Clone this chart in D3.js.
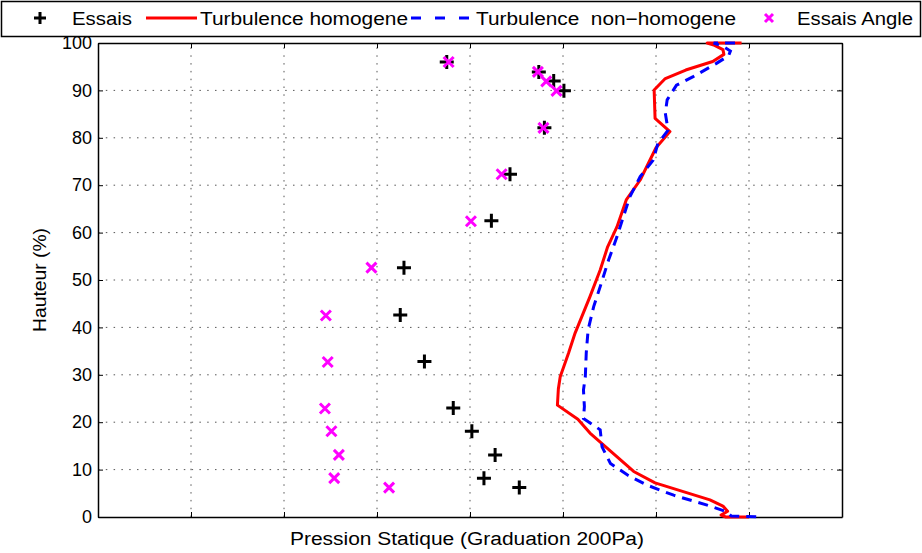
<!DOCTYPE html>
<html>
<head>
<meta charset="utf-8">
<script src="https://cdn.jsdelivr.net/npm/d3@7"></script>
<style>
  html, body { margin: 0; padding: 0; background: #fff; }
  svg { display: block; font-family: "Liberation Sans", Arial, Helvetica, sans-serif; }
</style>
</head>
<body>
<svg id="chart" width="922" height="553"></svg>
<script>
// Static pressure profile vs height: measurement points and two turbulence models.
// X is in graduations (1 graduation = 200 Pa), Y is height in %.

const yTicks = [0, 10, 20, 30, 40, 50, 60, 70, 80, 90, 100];
const xTicks = [0, 1, 2, 3, 4, 5, 6, 7, 8];

// Essais (black +)
const essaisX = [3.75, 4.74, 4.90, 5.01, 4.80, 4.43, 4.23, 3.29, 3.25, 3.51, 3.82, 4.02, 4.27, 4.15, 4.53];
const essaisY = [96.0, 93.9, 92.0, 89.9, 82.1, 72.3, 62.5, 52.6, 42.6, 32.8, 23.0, 18.1, 13.1, 8.2, 6.2];

// Essais Angle (magenta x)
const angleX = [3.77, 4.73, 4.82, 4.93, 4.79, 4.34, 4.01, 2.94, 2.45, 2.47, 2.44, 2.51, 2.59, 2.54, 3.13];
const angleY = [96.0, 93.9, 91.9, 89.9, 82.1, 72.3, 62.4, 52.6, 42.5, 32.7, 22.9, 18.1, 13.1, 8.2, 6.2];

// Turbulence homogene (red solid)
const homX = [6.92, 6.55, 6.63, 6.72, 6.73, 6.61, 6.32, 6.10, 5.98, 5.99, 6.15, 6.00, 5.83, 5.68, 5.58, 5.48,
              5.40, 5.29, 5.13, 5.06, 4.97, 4.95, 4.94, 5.16, 5.29, 5.76, 5.99, 6.58, 6.72, 6.77, 6.70, 6.75, 7.00];
const homY = [100.0, 100.0, 99.5, 98.6, 97.6, 96.1, 94.3, 92.5, 90.1, 84.1, 81.3, 77.9, 71.1, 66.9, 61.2, 57.0,
              52.1, 46.5, 38.8, 34.6, 29.6, 27.0, 23.6, 20.6, 17.7, 9.6, 7.2, 3.6, 2.3, 1.2, 0.4, 0.0, 0.0];

// Turbulence non-homogene (blue dashed)
const nonHomX = [6.85, 6.62, 6.72, 6.80, 6.78, 6.65, 6.40, 6.22, 6.12, 6.10, 6.13, 6.02, 5.97, 5.83, 5.72,
                 5.65, 5.58, 5.49, 5.40, 5.33, 5.27, 5.25, 5.24, 5.22, 5.23, 5.22, 5.40, 5.42, 5.51, 5.69, 5.90,
                 6.19, 6.55, 6.76, 6.81, 7.14];
const nonHomY = [100.0, 100.0, 99.3, 98.3, 97.3, 95.7, 92.9, 91.1, 88.0, 85.2, 81.6, 78.8, 75.3, 71.8, 67.6,
                 63.4, 59.1, 54.2, 48.6, 44.4, 39.5, 34.6, 29.6, 26.8, 23.3, 20.8, 18.4, 14.8, 11.3, 8.9, 6.75,
                 4.6, 2.5, 1.1, 0.2, 0.0];

const legendLabels = ["Essais", "Turbulence homogene", "Turbulence  non\u2212homogene", "Essais Angle"];
const xLabel = "Pression Statique (Graduation 200Pa)";
const yLabel = "Hauteur (%)";

const svg = d3.select("#chart");
const plot = { left: 98, right: 842, top: 43, bottom: 517 };

const x = d3.scaleLinear().domain([0, 8]).range([plot.left, plot.right]);
const y = d3.scaleLinear().domain([0, 100]).range([plot.bottom, plot.top]);

// Dotted grid
const grid = svg.append("g").attr("stroke", "#555").attr("stroke-width", 1).attr("stroke-dasharray", "1.5,6.3");
grid.selectAll("line.gx").data(xTicks.slice(1, -1)).join("line")
  .attr("x1", d => x(d)).attr("x2", d => x(d))
  .attr("y1", plot.bottom).attr("y2", plot.top);
grid.selectAll("line.gy").data(yTicks.slice(1, -1)).join("line")
  .attr("x1", plot.left).attr("x2", plot.right)
  .attr("y1", d => y(d)).attr("y2", d => y(d));

// Axes with inward ticks on all four sides
function styleAxis(g) {
  g.selectAll("path.domain").attr("stroke", "#000").attr("stroke-width", 1.5);
  g.selectAll(".tick line").attr("stroke", "#000").attr("stroke-width", 1);
}
svg.append("g").attr("transform", `translate(0,${plot.bottom})`)
  .call(d3.axisBottom(x).tickValues(xTicks).tickSize(-5).tickSizeOuter(0).tickFormat(""))
  .call(styleAxis);
svg.append("g").attr("transform", `translate(0,${plot.top})`)
  .call(d3.axisTop(x).tickValues(xTicks).tickSize(-5).tickSizeOuter(0).tickFormat(""))
  .call(styleAxis);
svg.append("g").attr("transform", `translate(${plot.right},0)`)
  .call(d3.axisRight(y).tickValues(yTicks).tickSize(-5).tickSizeOuter(0).tickFormat(""))
  .call(styleAxis);
const yAxis = svg.append("g").attr("transform", `translate(${plot.left},0)`)
  .call(d3.axisLeft(y).tickValues(yTicks).tickSize(-5).tickSizeOuter(0).tickPadding(6))
  .call(styleAxis);
yAxis.selectAll(".tick text")
  .attr("font-size", 18).attr("fill", "#000")
  .attr("font-family", "'Liberation Sans', Arial, sans-serif");

// Axis labels
svg.append("text")
  .attr("x", (plot.left + plot.right) / 2 - 3).attr("y", 545)
  .attr("text-anchor", "middle").attr("font-size", 18)
  .attr("textLength", 354).attr("lengthAdjust", "spacingAndGlyphs")
  .text(xLabel);
svg.append("text")
  .attr("transform", `translate(46,${(plot.top + plot.bottom) / 2}) rotate(-90)`)
  .attr("text-anchor", "middle").attr("font-size", 18)
  .attr("textLength", 104).attr("lengthAdjust", "spacingAndGlyphs")
  .text(yLabel);

// Marker symbols
const plusPath = s => `M${-s},0H${s}M0,${-s}V${s}`;
const crossPath = s => `M${-s},${-s}L${s},${s}M${-s},${s}L${s},${-s}`;

// Essais points
svg.append("g").selectAll("path").data(d3.range(essaisX.length)).join("path")
  .attr("transform", i => `translate(${x(essaisX[i])},${y(essaisY[i])})`)
  .attr("d", plusPath(7)).attr("stroke", "#000").attr("stroke-width", 3).attr("fill", "none");

// Model profiles
const line = (xs, ys) => d3.line().x((d, i) => x(xs[i])).y((d, i) => y(ys[i]))(xs);
svg.append("path").attr("d", line(homX, homY))
  .attr("fill", "none").attr("stroke", "#ff0000").attr("stroke-width", 3).attr("stroke-linejoin", "round");
svg.append("path").attr("d", line(nonHomX, nonHomY))
  .attr("fill", "none").attr("stroke", "#0000ff").attr("stroke-width", 3).attr("stroke-dasharray", "10,7");

// Essais Angle points
svg.append("g").selectAll("path").data(d3.range(angleX.length)).join("path")
  .attr("transform", i => `translate(${x(angleX[i])},${y(angleY[i])})`)
  .attr("d", crossPath(5)).attr("stroke", "#ff00ff").attr("stroke-width", 3).attr("fill", "none");

// Legend
const leg = svg.append("g");
leg.append("rect").attr("x", 1.5).attr("y", 1.5).attr("width", 919).attr("height", 35)
  .attr("fill", "#fff").attr("stroke", "#000").attr("stroke-width", 1.5);
const ly = 18;
leg.append("path").attr("transform", `translate(40,${ly})`).attr("d", plusPath(6))
  .attr("stroke", "#000").attr("stroke-width", 3);
leg.append("line").attr("x1", 146).attr("x2", 197).attr("y1", ly).attr("y2", ly)
  .attr("stroke", "#ff0000").attr("stroke-width", 3);
leg.append("line").attr("x1", 411).attr("x2", 470).attr("y1", ly).attr("y2", ly)
  .attr("stroke", "#0000ff").attr("stroke-width", 3).attr("stroke-dasharray", "10,14");
leg.append("path").attr("transform", `translate(769,${ly})`).attr("d", crossPath(4))
  .attr("stroke", "#ff00ff").attr("stroke-width", 3);
const legText = [
  { x: 72, w: 60 },
  { x: 200, w: 208 },
  { x: 476, w: 260 },
  { x: 797, w: 116 }
];
leg.selectAll("text").data(legendLabels).join("text")
  .attr("x", (d, i) => legText[i].x).attr("y", 25)
  .attr("font-size", 18)
  .attr("textLength", (d, i) => legText[i].w).attr("lengthAdjust", "spacingAndGlyphs")
  .attr("xml:space", "preserve")
  .style("white-space", "pre")
  .text(d => d);
</script>
</body>
</html>
